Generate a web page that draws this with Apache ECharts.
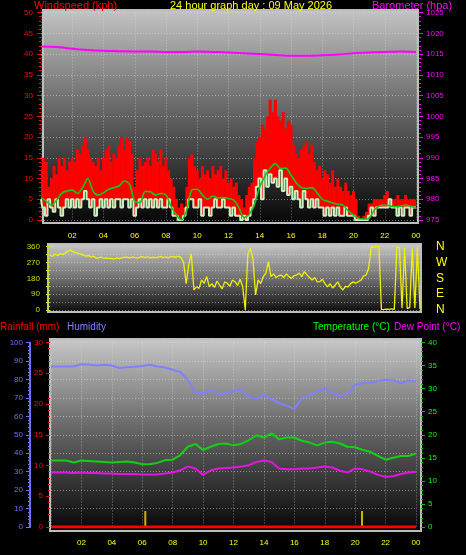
<!DOCTYPE html>
<html><head><meta charset="utf-8">
<script src="https://cdn.jsdelivr.net/npm/echarts@6/dist/echarts.min.js"></script>
<style>html,body{margin:0;padding:0;background:#000;}#c{width:466px;height:555px;}</style>
</head><body><div id="c"></div>
<script>
// ---------- DATA ----------
const xTickLabels = ['', '02', '04', '06', '08', '10', '12', '14', '16', '18', '20', '22', '00'];
const dirLabels = {0: 'N', 90: 'E', 180: 'S', 270: 'W', 360: 'N'};

// wind, 10-minute samples from 00:00 to 24:00 (kph)
const windStepHours = 1 / 6;
const windGust = [
  12,15,14,8,10,13, 11,15,13,15,12,14, 15,14,17,16,18,20, 17,15,14,13,15,12,
  15,17,18,14,16,15, 18,20,17,20,19,16, 8,12,15,13,14,15, 13,17,16,14,17,13,
  15,12,10,8,5,3, 4,3,8,15,16,13, 12,10,13,11,12,10, 13,11,12,13,10,12,
  9,10,8,9,6,5, 3,6,8,9,15,19, 20,23,22,25,29,26, 29,25,24,26,22,24,
  23,18,16,15,17,18, 19,16,18,14,12,13, 10,12,11,9,12,8, 10,8,7,9,7,6,
  7,5,1,0,1,2, 4,4,5,5,5,5, 6,7,5,5,5,6, 5,5,6,5,5,5, 5
];
const windSpeed = [
  5,3,1,5,3,2, 5,3,1,3,5,3, 5,3,5,3,5,7, 5,3,5,1,3,5,
  3,5,3,5,3,5, 5,3,5,5,3,5, 1,3,5,3,5,3, 5,3,5,3,5,3,
  3,5,3,1,1,0, 0,1,3,5,5,3, 3,5,1,3,3,1, 3,5,3,3,5,3,
  3,1,3,1,1,0, 1,0,1,3,5,8, 10,5,12,8,11,9, 10,8,12,7,10,6,
  8,5,7,5,3,7, 5,3,5,3,5,3, 3,1,3,1,3,1, 3,1,1,3,1,1,
  1,0,0,0,0,0, 1,3,1,3,3,3, 3,3,5,3,3,1, 3,1,3,3,1,3, 3
];
// 10-min average wind, 20-minute samples
const avgStepHours = 1 / 3;
const windAvg = [
  5.4,4.5,3.6, 4.8,6.5,7.0, 7.2,6.4,7.8, 10.0,7.0,6.0, 6.6,7.4,7.8, 8.2,9.4,8.6,
  4.5,4.2,6.9, 6.8,6.0,6.4, 6.0,3.2,1.2, 0.0,2.4,7.3, 7.4,6.0,5.0, 5.8,5.3,5.4,
  5.2,4.8,3.0, 0.6,1.4,3.8, 8.0,10.6,12.5, 13.6,12.4,12.5, 10.8,9.0,7.8, 7.6,7.8,6.6,
  5.0,4.5,4.1, 3.8,3.6,2.2, 1.2,0.3,0.2, 0.4,2.4,3.4, 3.6,3.4,3.2, 3.3,3.6,3.3, 2.9
];
// barometer, hourly (hPa)
const baroStepHours = 1;
const baro = [1016.8,1016.7,1016.3,1016.0,1015.8,1015.7,1015.6,1015.6,1015.5,1015.5,1015.6,1015.5,
  1015.4,1015.2,1015.0,1014.8,1014.6,1014.6,1014.7,1014.9,1015.2,1015.4,1015.5,1015.6,1015.5];

// wind direction, 10-minute samples (degrees)
const dirStepHours = 1 / 6;
const windDir = [
  313,305,318,310,322,315, 326,335,341,330,326,322, 318,312,307,310,302,306, 294,298,300,293,296,294,
  294,290,296,292,298,300, 300,296,302,298,295,300, 303,298,302,296,300,298, 300,305,298,302,296,304,
  303,300,306,298,270,150, 260,320,114,132,123,171, 152,190,132,150,128,165, 142,120,160,152,135,170,
  161,140,175,132,0,320, 351,290,86,171,150,190, 209,275,190,205,185,195, 199,185,205,190,180,195,
  199,210,190,218,200,185, 171,185,160,161,175,150, 132,150,125,142,160,130, 114,135,132,150,160,152,
  161,170,193,199,237,357, 358,360,360,2,3,5, 4,6,3,358,355,10, 352,8,15,350,12,355, 5
];

// humidity / temperature / dew point, 30-minute samples
const thStepHours = 0.5;
const humidity = [87.0,87.0,87.0,87.0,88.2,88.0,87.5,88.0,87.5,86.2,86.6,86.8,87.3,87.9,87.0,86.4,
  85.2,84.0,79.8,72.5,72.5,74.3,71.8,72.8,73.6,74.7,70.5,69.3,71.6,69.5,67.2,65.8,
  63.9,70.0,71.2,73.5,75.2,72.5,71.0,72.3,77.0,77.9,78.3,79.2,79.8,79.6,77.9,79.4,78.8];
const temperature = [14.4,14.4,14.4,14.0,14.4,14.3,14.2,14.1,14.0,14.1,14.2,14.0,13.6,13.6,13.9,14.5,
  14.6,15.6,17.4,18.0,16.7,17.4,18.0,18.1,17.7,18.0,18.8,19.9,19.4,20.3,19.0,19.4,
  19.4,18.7,18.3,17.7,18.3,18.5,18.1,17.4,17.3,16.7,16.3,15.4,14.6,15.0,15.4,15.4,15.9];
const dewPoint = [11.8,11.8,11.8,11.7,11.8,11.7,11.7,11.6,11.6,11.5,11.5,11.5,11.4,11.4,11.4,11.6,
  11.8,12.3,13.1,12.7,11.3,12.3,12.7,12.8,12.9,13.1,13.4,14.1,14.4,14.1,12.7,12.5,
  12.5,12.7,12.7,12.9,13.1,12.9,12.2,11.8,12.7,12.5,12.0,11.3,10.9,11.0,11.5,11.8,12.0];

// rainfall (mm)
const rainTimes = [0, 24];
const rainTotal = [0, 0];
const rainMarkTimes = [6.2, 20.45];
const rainMarkValues = [2.6, 2.6];

// ---------- CHART ----------
const FONT = 'Liberation Sans';
const pairs = (step, arr) => arr.map((v, i) => [i * step, v]);
const grad = (stops) => ({type: 'linear', x: 0, y: 0, x2: 0, y2: 1,
  colorStops: stops.map(s => ({offset: s[0], color: s[1]}))});
const dotted = {show: true, lineStyle: {color: 'rgba(225,225,225,0.5)', type: [1, 2], width: 1}};
const noSplit = {show: false};
const plain = v => String(v);

function yAx(o) {
  const c = o.color;
  return Object.assign({
    type: 'value', axisLine: {show: false},
    axisTick: {show: true, length: 4, lineStyle: {color: c}},
    minorTick: {show: true, splitNumber: 5, length: 2, lineStyle: {color: c}},
    axisLabel: {color: c, fontSize: 8, fontFamily: FONT, margin: 7, formatter: plain},
    splitLine: noSplit
  }, o.extra);
}
const hiddenY = (extra) => Object.assign({type: 'value', axisLine: {show: false}, axisTick: {show: false},
  axisLabel: {show: false}, splitLine: noSplit}, extra);

// gust band: from wind speed up to gust, one slot per sample
function renderGust(params, api) {
  const t = api.value(0);
  const lo = api.coord([t, api.value(1)]);
  const hi = api.coord([t, api.value(2)]);
  const w = api.size([windStepHours, 0])[0] + 0.4;
  return {type: 'rect', shape: {x: lo[0] - w / 2, y: hi[1], width: w, height: Math.max(0, lo[1] - hi[1])},
    style: {fill: '#ff0000'}};
}

const chart = echarts.init(document.getElementById('c'));
const option = {
  animation: false,
  backgroundColor: '#000',
  graphic: [
    {type: 'rect', z: -10, shape: {x: 43, y: 10, width: 375, height: 213},
      style: {fill: grad([[0, '#c4c4c4'], [0.45, '#6a6a6a'], [1, '#050505']]), stroke: '#bdbdbd', lineWidth: 2}},
    {type: 'rect', z: -10, shape: {x: 48, y: 244, width: 373, height: 68},
      style: {fill: grad([[0, '#cacaca'], [0.5, '#707070'], [1, '#0a0a0a']]), stroke: '#bdbdbd', lineWidth: 2}},
    {type: 'rect', z: -10, shape: {x: 50, y: 339, width: 371, height: 192},
      style: {fill: grad([[0, '#c8c8c8'], [0.45, '#6a6a6a'], [1, '#050505']]), stroke: '#bdbdbd', lineWidth: 2}},
    {type: 'text', x: 34, y: 0, style: {text: 'Windspeed (kph)', fill: '#ff0000', font: '11px ' + FONT}},
    {type: 'text', x: 251, y: 0, style: {text: '24 hour graph day : 09 May 2026', fill: '#ffff00', font: '11px ' + FONT, align: 'center'}},
    {type: 'text', x: 372, y: 0, style: {text: 'Barometer (hpa)', fill: '#ff00ff', font: '11px ' + FONT}},
    {type: 'text', x: 0, y: 322, style: {text: 'Rainfall (mm)', fill: '#ff0000', font: '10px ' + FONT}},
    {type: 'text', x: 67, y: 322, style: {text: 'Humidity', fill: '#8080ff', font: '10px ' + FONT}},
    {type: 'text', x: 313, y: 322, style: {text: 'Temperature (°C)', fill: '#00ff00', font: '10px ' + FONT}},
    {type: 'text', x: 394, y: 322, style: {text: 'Dew Point (°C)', fill: '#ff00ff', font: '10px ' + FONT}}
  ],
  grid: [
    {left: 41, top: 12.6, width: 375, height: 207.4},
    {left: 50, top: 246.7, width: 370, height: 63.3},
    {left: 51, top: 342.5, width: 365, height: 184.5},
    {left: 30, top: 342.5, width: 4, height: 184.5}
  ],
  xAxis: [
    {gridIndex: 0, type: 'value', min: 0, max: 24, interval: 2,
      axisLine: {show: false}, axisTick: {show: false},
      axisLabel: {color: '#ffff00', fontSize: 8, fontFamily: FONT, margin: 12, formatter: v => xTickLabels[v / 2]},
      splitLine: dotted},
    {gridIndex: 1, type: 'value', min: 0, max: 24, interval: 2, show: false},
    {gridIndex: 2, type: 'value', min: 0, max: 24, interval: 2,
      axisLine: {show: false}, axisTick: {show: false},
      axisLabel: {color: '#ffff00', fontSize: 8, fontFamily: FONT, margin: 12, formatter: v => xTickLabels[v / 2]},
      splitLine: dotted},
    {gridIndex: 3, type: 'value', min: 0, max: 24, show: false}
  ],
  yAxis: [
    yAx({color: '#ff0000', extra: {gridIndex: 0, min: 0, max: 50, interval: 5, position: 'left', offset: 1, splitLine: dotted}}),
    yAx({color: '#ff00ff', extra: {gridIndex: 0, min: 975, max: 1025, interval: 5, position: 'right', offset: 3}}),
    yAx({color: '#d8d800', extra: {gridIndex: 1, min: 0, max: 360, interval: 45, position: 'left', offset: 3,
      minorTick: {show: true, splitNumber: 2, length: 2, lineStyle: {color: '#d8d800'}},
      axisLabel: {color: '#d8d800', fontSize: 8, fontFamily: FONT, margin: 7, formatter: v => (v % 90 === 0 ? String(v) : '')},
      splitLine: dotted}}),
    {gridIndex: 1, type: 'value', min: 0, max: 360, interval: 90, position: 'right',
      axisLine: {show: false}, axisTick: {show: false}, splitLine: noSplit,
      axisLabel: {color: '#ffff00', fontSize: 12, fontFamily: FONT, margin: 16, formatter: v => dirLabels[v]}},
    hiddenY({gridIndex: 2, min: 0, max: 100, interval: 10, position: 'left', splitLine: dotted}),
    yAx({color: '#ff0000', extra: {gridIndex: 2, min: 0, max: 30, interval: 5, position: 'left', offset: 1}}),
    yAx({color: '#00c000', extra: {gridIndex: 2, min: 0, max: 40, interval: 5, position: 'right', offset: 5,
      axisLabel: {color: '#00ff00', fontSize: 8, fontFamily: FONT, margin: 7, formatter: plain}}}),
    yAx({color: '#7070ff', extra: {gridIndex: 3, min: 0, max: 100, interval: 10, position: 'left',
      axisLine: {show: true, lineStyle: {color: '#7070ff', width: 2}}}})
  ],
  series: [
    {name: 'Gust', type: 'custom', xAxisIndex: 0, yAxisIndex: 0, renderItem: renderGust, clip: true,
      encode: {x: 0, y: [1, 2]},
      data: windGust.map((g, i) => [i * windStepHours, windSpeed[i], g]), z: 2},
    {name: 'Speed', type: 'line', xAxisIndex: 0, yAxisIndex: 0, step: 'middle', symbol: 'none',
      lineStyle: {color: '#c8f2c0', width: 2}, data: pairs(windStepHours, windSpeed), z: 3},
    {name: 'Average', type: 'line', xAxisIndex: 0, yAxisIndex: 0, smooth: 0.3, symbol: 'none',
      lineStyle: {color: '#14c814', width: 1.6}, data: pairs(avgStepHours, windAvg), z: 4},
    {name: 'Barometer', type: 'line', xAxisIndex: 0, yAxisIndex: 1, smooth: 0.3, symbol: 'none',
      lineStyle: {color: '#ff00ff', width: 2}, data: pairs(baroStepHours, baro), z: 4},
    {name: 'Direction', type: 'line', xAxisIndex: 1, yAxisIndex: 2, symbol: 'none',
      lineStyle: {color: '#f0f000', width: 1.3}, data: pairs(dirStepHours, windDir), z: 3},
    {name: 'Humidity', type: 'line', xAxisIndex: 2, yAxisIndex: 4, symbol: 'none',
      lineStyle: {color: '#8080ff', width: 2}, data: pairs(thStepHours, humidity), z: 3},
    {name: 'Temperature', type: 'line', xAxisIndex: 2, yAxisIndex: 6, symbol: 'none',
      lineStyle: {color: '#14d014', width: 2}, data: pairs(thStepHours, temperature), z: 3},
    {name: 'Dew Point', type: 'line', xAxisIndex: 2, yAxisIndex: 6, symbol: 'none',
      lineStyle: {color: '#e414e4', width: 2}, data: pairs(thStepHours, dewPoint), z: 3},
    {name: 'Rainfall', type: 'line', xAxisIndex: 2, yAxisIndex: 5, symbol: 'none',
      lineStyle: {color: '#ff0000', width: 3}, data: rainTimes.map((t, i) => [t, rainTotal[i]]), z: 4},
    {name: 'Rain marks', type: 'bar', xAxisIndex: 2, yAxisIndex: 5, barWidth: 2,
      itemStyle: {color: '#c8b400'}, data: rainMarkTimes.map((t, i) => [t, rainMarkValues[i]]), z: 3}
  ]
};
chart.setOption(option);
</script></body></html>
